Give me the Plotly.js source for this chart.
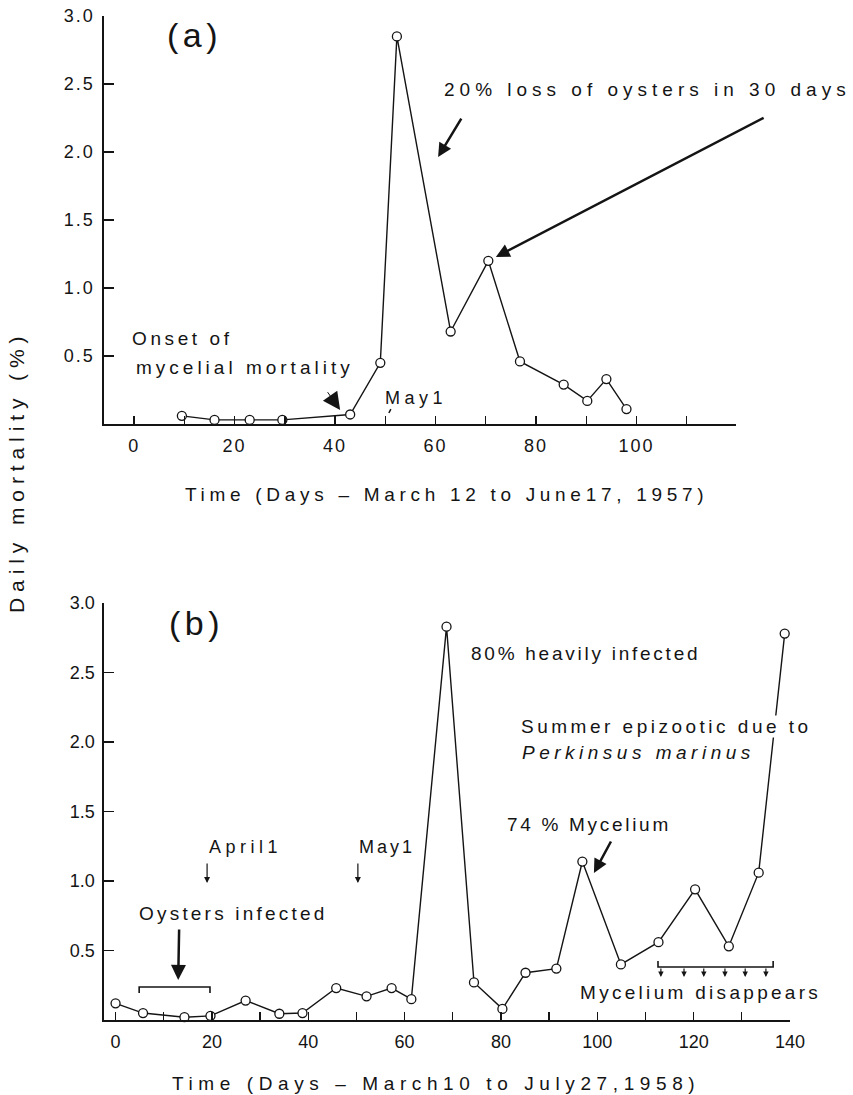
<!DOCTYPE html>
<html>
<head>
<meta charset="utf-8">
<script src="https://cdn.plot.ly/plotly-3.0.1.min.js"></script>
<style>
  html, body { margin: 0; padding: 0; background: #fff; }
  #chart { width: 853px; height: 1095px; }
  .xtick text, .ytick text { letter-spacing: 2px; }
</style>
</head>
<body>
<div id="chart"></div>
<script>
// ---- Data ----
// (a) 1957: days since March 12 vs daily mortality (%)
const a_days = [9.5, 16, 23, 29.5, 43, 49, 52.3, 63, 70.5, 76.8, 85.5, 90.2, 94, 98];
const a_mort = [0.06, 0.03, 0.03, 0.03, 0.07, 0.45, 2.85, 0.68, 1.20, 0.46, 0.29, 0.17, 0.33, 0.11];
// (b) 1958: days since March 10 vs daily mortality (%)
const b_days = [0, 5.7, 14.3, 19.7, 27, 34, 38.8, 45.8, 52.1, 57.3, 61.4, 68.7, 74.4, 80.3, 85.1, 91.5, 96.9, 104.9, 112.7, 120.3, 127.3, 133.5, 138.9];
const b_mort = [0.12, 0.05, 0.02, 0.03, 0.14, 0.045, 0.05, 0.23, 0.17, 0.23, 0.15, 2.83, 0.27, 0.08, 0.34, 0.37, 1.14, 0.40, 0.56, 0.94, 0.53, 1.06, 2.78];

// Tick labels
const a_xticks = [0, 20, 40, 60, 80, 100];
const a_xminor = [10, 30, 50, 70, 90, 110];
const b_xticks = [0, 20, 40, 60, 80, 100, 120, 140];
const b_xminor = [10, 30, 50, 70, 90, 110, 130];
const y_ticks = [0.5, 1.0, 1.5, 2.0, 2.5, 3.0];
const y_ticktext = ['0.5', '1.0', '1.5', '2.0', '2.5', '3.0'];

// Text
const titleA = 'Time (Days – March 12 to June17, 1957)';
const titleB = 'Time (Days – March10 to July27,1958)';
const titleY = 'Daily mortality (%)';

// ---- Styling helpers ----
const FONT = 'Liberation Sans, Arial, Helvetica, sans-serif';
const INK = '#141414';
const sp = (t, s) => '<span style="letter-spacing:' + s + 'px">' + t + '</span>';

function axisX(domain, range, ticks, minor, anchor) {
  return {
    domain: domain, range: range, anchor: anchor,
    showline: true, linecolor: INK, linewidth: 1.6,
    ticks: 'inside', ticklen: 8, tickwidth: 1.3, tickcolor: INK,
    tickvals: ticks, ticktext: ticks.map(String),
    minor: { tickvals: minor, ticks: 'inside', ticklen: 8, tickwidth: 1.3, tickcolor: INK },
    showgrid: false, zeroline: false,
    tickfont: { family: FONT, size: 18, color: INK },
    ticklabelstandoff: 5
  };
}
function axisY(domain, anchor) {
  return {
    domain: domain, range: [0, 3], anchor: anchor,
    showline: true, linecolor: INK, linewidth: 1.6,
    ticks: 'inside', ticklen: 10, tickwidth: 1.3, tickcolor: INK,
    tickvals: y_ticks, ticktext: y_ticktext,
    showgrid: false, zeroline: false,
    tickfont: { family: FONT, size: 18, color: INK },
    ticklabelstandoff: 4
  };
}

const W = 853, H = 1095;
const px = v => v / W;
const py = v => 1 - v / H;

const lineStyle = { color: INK, width: 1.4 };
const markerStyle = { symbol: 'circle', size: 9, color: 'white', line: { color: INK, width: 1.3 } };

const traces = [
  { x: a_days, y: a_mort, xaxis: 'x', yaxis: 'y', mode: 'lines+markers',
    line: lineStyle, marker: markerStyle, cliponaxis: false, name: '1957' },
  { x: b_days, y: b_mort, xaxis: 'x2', yaxis: 'y2', mode: 'lines+markers',
    line: lineStyle, marker: markerStyle, cliponaxis: false, name: '1958' }
];

function txt(xref, yref, x, y, text, size, s, extra) {
  return Object.assign({
    xref: xref, yref: yref, x: x, y: y, text: sp(text, s), showarrow: false,
    xanchor: 'left', yanchor: 'middle',
    font: { family: FONT, size: size, color: INK }
  }, extra || {});
}
function arrow(xref, yref, x, y, ax, ay, head, size, width) {
  return {
    xref: xref, yref: yref, axref: xref, ayref: yref,
    x: x, y: y, ax: ax, ay: ay, text: '', showarrow: true,
    arrowhead: head, arrowsize: size, arrowwidth: width, arrowcolor: INK,
    standoff: 0, startstandoff: 0
  };
}

const annotations = [
  // Panel (a)
  txt('x', 'y', 12.1, 2.86, '(a)', 34, 4.5, { xanchor: 'center' }),
  txt('x', 'y', 61.3, 2.456, '20% loss of oysters in 30 days', 19, 5.0),
  arrow('x', 'y', 60.5, 1.963, 65.3, 2.257, 2, 1.1, 2.5),
  arrow('x', 'y', 72.0, 1.228, 125.6, 2.257, 2, 1.1, 2.5),
  txt('x', 'y', -0.9, 0.632, 'Onset of', 19, 3.6),
  txt('x', 'y', -0.1, 0.412, 'mycelial mortality', 19, 4.0),
  arrow('x', 'y', 41.0, 0.103, 38.3, 0.245, 2, 3.5, 1),
  txt('x', 'y', 49.5, 0.191, 'May1', 18, 4.5),

  // Panel (b)
  txt('x2', 'y2', 16.9, 2.856, '(b)', 34, 4.5, { xanchor: 'center' }),
  txt('x2', 'y2', 73.3, 2.640, '80% heavily infected', 19, 2.75),
  txt('x2', 'y2', 83.9, 2.115, 'Summer epizootic due to', 19, 3.5, { bgcolor: 'white', borderpad: 0 }),
  txt('x2', 'y2', 83.9, 1.921, '<i>Perkinsus marinus</i>', 19, 4.5),
  txt('x2', 'y2', 80.8, 1.403, '74 % Mycelium', 19, 2.7),
  arrow('x2', 'y2', 99.3, 1.058, 103.0, 1.295, 2, 1.1, 2.5),
  txt('x2', 'y2', 18.9, 1.245, 'April1', 18, 4.5),
  arrow('x2', 'y2', 19.0, 0.986, 19.0, 1.137, 2, 1.0, 1.2),
  txt('x2', 'y2', 50.1, 1.245, 'May1', 18, 3),
  arrow('x2', 'y2', 50.3, 0.986, 50.3, 1.137, 2, 1.0, 1.2),
  txt('x2', 'y2', 4.4, 0.763, 'Oysters infected', 19, 3.2),
  arrow('x2', 'y2', 13.0, 0.288, 13.2, 0.662, 2, 1.2, 2.5),
  txt('x2', 'y2', 95.9, 0.201, 'Mycelium disappears', 19, 3.3),
  arrow('x2', 'y2', 113.2, 0.31, 113.2, 0.381, 2, 0.9, 1.2),
  arrow('x2', 'y2', 118.0, 0.31, 118.0, 0.381, 2, 0.9, 1.2),
  arrow('x2', 'y2', 122.1, 0.31, 122.1, 0.381, 2, 0.9, 1.2),
  arrow('x2', 'y2', 126.5, 0.31, 126.5, 0.381, 2, 0.9, 1.2),
  arrow('x2', 'y2', 130.7, 0.31, 130.7, 0.381, 2, 0.9, 1.2),
  arrow('x2', 'y2', 135.0, 0.31, 135.0, 0.381, 2, 0.9, 1.2),

  // Axis titles
  txt('paper', 'paper', px(446), py(494), titleA, 19, 4.7, { xanchor: 'center' }),
  txt('paper', 'paper', px(436), py(1083), titleB, 19, 5.6, { xanchor: 'center' }),
  txt('paper', 'paper', px(17), py(472), titleY, 21, 5.9, { xanchor: 'center', textangle: -90 })
];

const shapes = [
  // small mark under "May1" in (a)
  { type: 'line', xref: 'x', yref: 'y', x0: 51.1, y0: 0.110, x1: 50.7, y1: 0.081,
    line: { color: INK, width: 1.5 } },
  // bracket under "Oysters infected"
  { type: 'path', xref: 'x2', yref: 'y2',
    path: 'M 4.9,0.194 L 4.9,0.237 L 19.6,0.237 L 19.6,0.194',
    line: { color: INK, width: 1.6 } },
  // bracket above "Mycelium disappears"
  { type: 'path', xref: 'x2', yref: 'y2',
    path: 'M 112.6,0.424 L 112.6,0.381 L 136.5,0.381 L 136.5,0.424',
    line: { color: INK, width: 1.6 } }
];

const layout = {
  width: W, height: H,
  margin: { l: 0, r: 0, t: 0, b: 0, pad: 0 },
  paper_bgcolor: 'white', plot_bgcolor: 'white',
  showlegend: false,
  font: { family: FONT, size: 17, color: INK },
  xaxis: axisX([px(104), px(736)], [-6, 119.8], a_xticks, a_xminor, 'y'),
  yaxis: axisY([py(424), py(16)], 'x'),
  xaxis2: axisX([px(104), px(790)], [-2.4, 140], b_xticks, b_xminor, 'y2'),
  yaxis2: axisY([py(1020), py(603)], 'x2'),
  annotations: annotations,
  shapes: shapes
};

Plotly.newPlot('chart', traces, layout, { staticPlot: true, displayModeBar: false });
</script>
</body>
</html>
